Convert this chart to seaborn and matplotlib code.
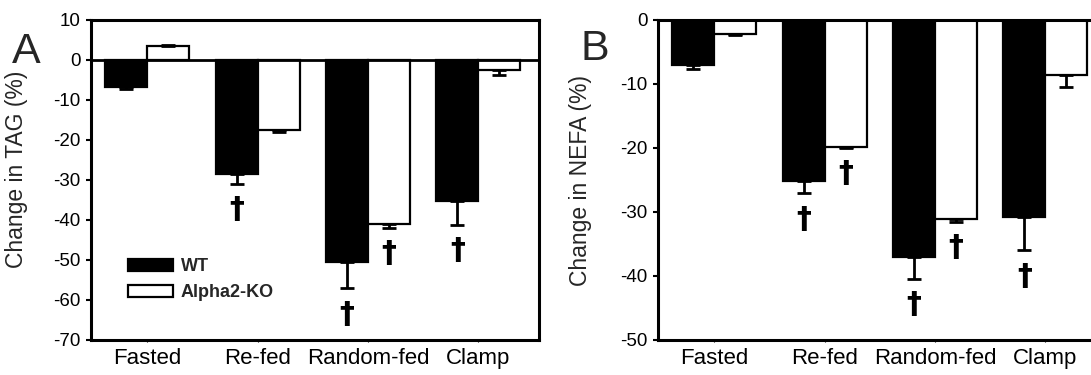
"""
Change in plasma TAG and NEFA, WT vs Alpha2-KO, two bar panels.
"""

import numpy as np
import pandas as pd
import matplotlib
matplotlib.use("Agg")
import matplotlib.pyplot as plt
from matplotlib.patches import Patch
import seaborn as sns

# ---------------------------------------------------------------------------
# Data
# ---------------------------------------------------------------------------
categories = ['Fasted', 'Re-fed', 'Random-fed', 'Clamp']
genotypes = ['WT', 'Alpha2-KO']

tag_wt = [-6.7, -28.5, -50.5, -35.3]
tag_wt_err = [0.6, 2.5, 6.6, 6.0]
tag_ko = [3.6, -17.5, -41.0, -2.5]
tag_ko_err = [0.15, 0.4, 0.9, 1.25]
tag_wt_sig = [False, True, True, True]
tag_ko_sig = [False, False, True, False]

nefa_wt = [-7.1, -25.2, -37.1, -30.8]
nefa_wt_err = [0.6, 1.9, 3.3, 5.2]
nefa_ko = [-2.2, -19.8, -31.1, -8.6]
nefa_ko_err = [0.2, 0.15, 0.4, 1.8]
nefa_wt_sig = [False, True, True, True]
nefa_ko_sig = [False, True, True, False]

tag_ticks = list(range(10, -80, -10))
nefa_ticks = list(range(0, -60, -10))

PALETTE = {'WT': 'black', 'Alpha2-KO': 'white'}


def _long(wt, ko):
    return pd.DataFrame({
        'condition': categories * 2,
        'genotype': ['WT'] * len(wt) + ['Alpha2-KO'] * len(ko),
        'change': wt + ko,
    })


def draw_panel(ax, wt, wt_err, ko, ko_err, wt_sig, ko_sig, ylim, yticks, ylabel):
    sns.barplot(data=_long(wt, ko), x='condition', y='change', hue='genotype',
                hue_order=genotypes, palette=PALETTE, saturation=1,
                edgecolor='black', linewidth=1.6, width=0.76,
                errorbar=None, legend=False, ax=ax, zorder=2)

    for cont, vals, errs, sig in zip(ax.containers, [wt, ko], [wt_err, ko_err],
                                      [wt_sig, ko_sig]):
        xs = np.array([r.get_x() + r.get_width() / 2 for r in cont])
        vals = np.asarray(vals)
        errs = np.asarray(errs)
        lower = np.where(vals < 0, errs, 0)
        upper = np.where(vals >= 0, errs, 0)
        ax.errorbar(xs, vals, yerr=[lower, upper], fmt='none', ecolor='black',
                    elinewidth=2, capsize=4.7, capthick=2, zorder=3)
        # dagger sits a fixed distance under the end of the error bar
        for x, v, e, s in zip(xs, vals, errs, sig):
            if s:
                ax.annotate('\u2020', xy=(x, v - e), xytext=(0, -18.5),
                            textcoords='offset points', ha='center', va='center',
                            fontsize=21.5, fontweight='bold', color='black',
                            family='DejaVu Sans')

    ax.set_xlim(-0.51, 3.55)
    ax.set_ylim(*ylim)
    ax.set_yticks(yticks)
    ax.set_xlabel('')
    ax.set_ylabel(ylabel, fontsize=16.5)
    for sp in ax.spines.values():
        sp.set_visible(True)
        sp.set_linewidth(2.2)
        sp.set_color('black')
    ax.tick_params(axis='y', direction='out', length=3.6, width=1.5,
                   labelsize=13.5, pad=4, colors='black')
    ax.tick_params(axis='x', direction='out', length=1.5, width=0.8,
                   labelsize=16, pad=4, colors='black')


sns.set_style('ticks')
plt.rcParams['font.family'] = ['Liberation Sans', 'DejaVu Sans']
plt.rcParams['axes.unicode_minus'] = False

fig = plt.figure(figsize=(10.91, 3.75), dpi=100)
ax_a = fig.add_axes([91 / 1091, 35 / 375, 448 / 1091, 320 / 375])
ax_b = fig.add_axes([658 / 1091, 35 / 375, 448 / 1091, 320 / 375])

# --- Panel A: TAG ---
draw_panel(ax_a, tag_wt, tag_wt_err, tag_ko, tag_ko_err, tag_wt_sig, tag_ko_sig,
           (-70, 10), tag_ticks, 'Change in TAG (%)')
ax_a.axhline(0, color='black', linewidth=2.0, zorder=4)
ax_a.yaxis.set_label_coords(-0.14, 0.533)

handles = [Patch(facecolor=PALETTE[g], edgecolor='black', linewidth=1.6, label=g)
           for g in genotypes]
ax_a.legend(handles=handles, loc='upper left', bbox_to_anchor=(0.083, 0.255),
            frameon=False, borderpad=0, borderaxespad=0, handlelength=2.5,
            handleheight=0.61, handletextpad=0.4, labelspacing=0.5,
            prop={'size': 13, 'weight': 'bold'})

# --- Panel B: NEFA ---
draw_panel(ax_b, nefa_wt, nefa_wt_err, nefa_ko, nefa_ko_err, nefa_wt_sig, nefa_ko_sig,
           (-50, 0), nefa_ticks, 'Change in NEFA (%)')
ax_b.yaxis.set_label_coords(-0.147, 0.5)

fig.text(12 / 1091, 1 - 63 / 375, 'A', fontsize=31, va='baseline', ha='left')
fig.text(580 / 1091, 1 - 60 / 375, 'B', fontsize=31, va='baseline', ha='left')

fig.savefig('out.png', dpi=100)
